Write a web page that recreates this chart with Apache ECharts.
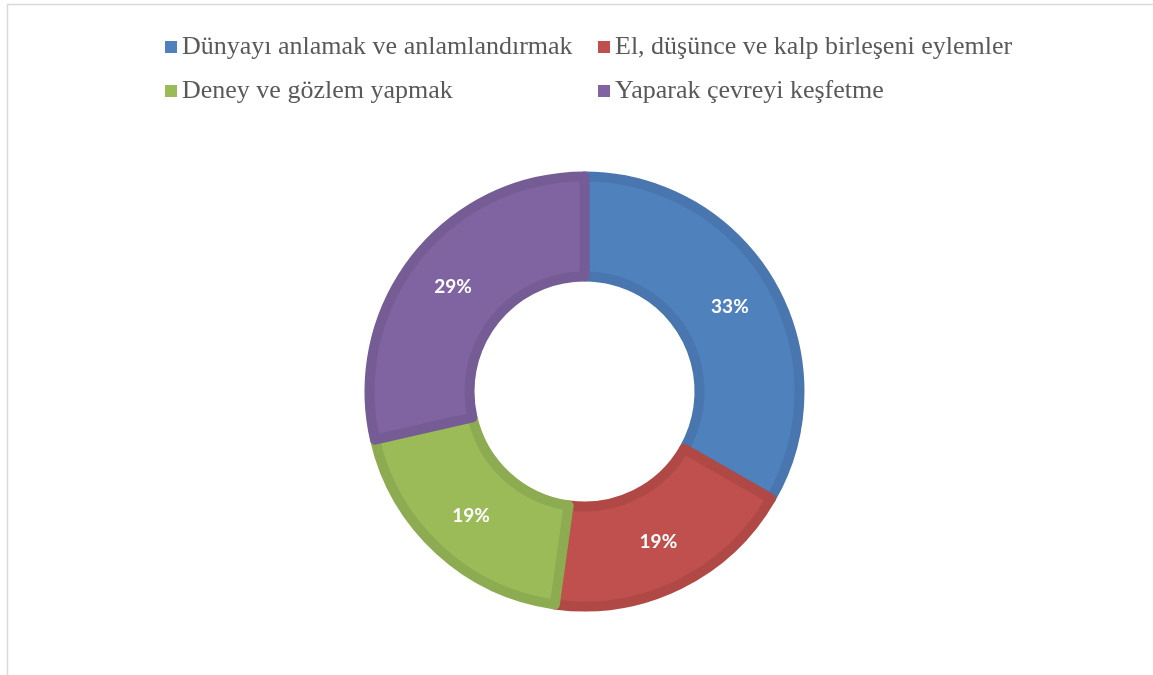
<!DOCTYPE html>
<html>
<head>
<meta charset="utf-8">
<script src="https://cdn.jsdelivr.net/npm/echarts@6/dist/echarts.min.js"></script>
<style>html,body{margin:0;padding:0;background:#fff;}#c{width:1153px;height:675px;}</style>
</head>
<body>
<div id="c"></div>
<script>
const categories = ['Dünyayı anlamak ve anlamlandırmak', 'El, düşünce ve kalp birleşeni eylemler', 'Deney ve gözlem yapmak', 'Yaparak çevreyi keşfetme'];
const values = [33.3, 18.9, 19.2, 28.6];
const fillColors = ['#4f81bd', '#c0504d', '#9bbb59', '#8064a2'];
const borderColors = ['#4976ae', '#b04945', '#8dab50', '#765c95'];

const chart = echarts.init(document.getElementById('c'));
const legendText = { fontFamily: 'Liberation Serif', fontSize: 26, color: '#595959' };
const legendPos = [[160, 29], [593, 29], [160, 73], [593, 73]];
chart.setOption({
  animation: false,
  color: fillColors,
  graphic: [{
    type: 'rect', shape: { x: 7.5, y: 4.5, width: 1300, height: 800 },
    style: { fill: 'none', stroke: '#d9d9d9', lineWidth: 1.5 }, silent: true
  }],
  legend: categories.map((n, i) => ({
    data: [n], left: legendPos[i][0], top: legendPos[i][1],
    icon: 'rect', itemWidth: 12, itemHeight: 12, textStyle: legendText,
    itemStyle: { borderWidth: 0 }
  })),
  series: [{
    type: 'pie',
    center: [584.5, 391.5],
    radius: [115, 215],
    startAngle: 90,
    clockwise: true,
    label: {
      show: true, position: 'inside', color: '#fff', fontFamily: 'Lato', fontWeight: 'bold', fontSize: 19,
      formatter: p => Math.round(p.percent) + '%'
    },
    labelLine: { show: false },
    emphasis: { disabled: true },
    data: categories.map((n, i) => ({
      name: n, value: values[i],
      itemStyle: { color: fillColors[i], borderColor: borderColors[i], borderWidth: 10 }
    }))
  }]
});
</script>
</body>
</html>
